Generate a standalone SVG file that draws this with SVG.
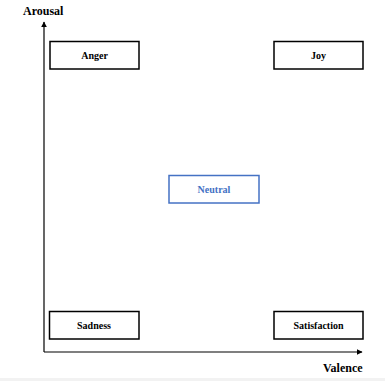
<svg xmlns="http://www.w3.org/2000/svg" width="385" height="381" viewBox="0 0 385 381">
<defs>
<style>
.box{fill:#fff;stroke:#000;stroke-width:1.5}
.lbl{font-family:"Liberation Serif","Times New Roman",serif;font-weight:bold;font-size:10px;text-anchor:middle;fill:#000}
.ax{font-family:"Liberation Serif","Times New Roman",serif;font-weight:bold;font-size:12px;fill:#000}
.axis{stroke:#000;stroke-width:1.2;fill:none}
</style>
<marker id="arr" viewBox="0 0 10 10" refX="9" refY="5" markerWidth="6" markerHeight="6" orient="auto" markerUnits="userSpaceOnUse">
<path d="M0,0 L10,5 L0,10 z" fill="#000"/>
</marker>
</defs>
<rect width="385" height="381" fill="#fff"/>
<rect x="0" y="378" width="385" height="3" fill="#f2f2f2"/>
<g id="connectors">
<path class="axis" d="M44,352 V22" marker-end="url(#arr)"/>
<path class="axis" d="M44,352 H362" marker-end="url(#arr)"/>
</g>
<text class="ax" x="23" y="15">Arousal</text>
<text class="ax" x="323" y="372">Valence</text>
<g id="anger"><rect class="box" x="50" y="41.5" width="89" height="27.5"/><text class="lbl" x="94.5" y="59">Anger</text></g>
<g id="joy"><rect class="box" x="274" y="41.5" width="89" height="27.5"/><text class="lbl" x="318.5" y="59">Joy</text></g>
<g id="neutral"><rect x="169" y="175.5" width="90" height="27.5" fill="#fff" stroke="#4472C4" stroke-width="1.5"/><text class="lbl" x="214" y="193" fill="#4472C4" style="fill:#4472C4">Neutral</text></g>
<g id="sadness"><rect class="box" x="49.5" y="311.5" width="89.5" height="27.5"/><text class="lbl" x="94" y="329">Sadness</text></g>
<g id="satisfaction"><rect class="box" x="274" y="311.5" width="89" height="27.5"/><text class="lbl" x="318.5" y="329">Satisfaction</text></g>
</svg>
